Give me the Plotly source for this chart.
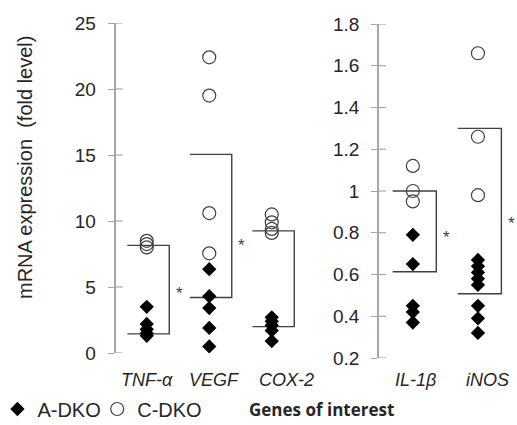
import plotly.graph_objects as go

W, H = 517, 425

# ---------------- data ----------------
LEFT_GENES = ["TNF-α", "VEGF", "COX-2"]
RIGHT_GENES = ["IL-1β", "iNOS"]

TNF_A = [3.5, 2.2, 1.8, 1.5, 1.3]
TNF_C = [8.5, 8.25, 8.0]
VEGF_A = [6.35, 4.3, 3.4, 1.9, 0.5]
VEGF_C = [22.4, 19.5, 10.6, 7.55]
COX2_A = [2.7, 2.4, 2.1, 1.7, 0.9]
COX2_C = [10.5, 9.9, 9.4, 9.1]
IL1B_A = [0.79, 0.65, 0.45, 0.42, 0.37]
IL1B_C = [1.12, 1.0, 0.95]
INOS_A = [0.67, 0.64, 0.61, 0.58, 0.55, 0.45, 0.39, 0.32]
INOS_C = [1.66, 1.26, 0.98]

# bracket levels (upper = C-DKO, lower = A-DKO)
LEFT_UPPER = [8.15, 15.05, 9.25]
LEFT_LOWER = [1.45, 4.2, 2.0]
RIGHT_UPPER = [1.0, 1.3]
RIGHT_LOWER = [0.613, 0.508]
# significance star heights
LEFT_STAR = [4.9, 8.5, 5.3]
RIGHT_STAR = [0.8, 0.87]

LEFT_TICKS = [0, 5, 10, 15, 20, 25]
RIGHT_TICKS = [0.2, 0.4, 0.6, 0.8, 1.0, 1.2, 1.4, 1.6, 1.8]

# ---------------- styling ----------------
FONT = "Liberation Sans, Arial, sans-serif"
TXT = "#262626"
AX = "#a6a6a6"
BR = "#404040"

LEFT_A = [TNF_A, VEGF_A, COX2_A]
LEFT_C = [TNF_C, VEGF_C, COX2_C]
RIGHT_A = [IL1B_A, INOS_A]
RIGHT_C = [IL1B_C, INOS_C]

XDOM1 = [115.5 / W, 303 / W]
XDOM2 = [379 / W, 511.8 / W]
YDOM1 = [(H - 353) / H, (H - 23) / H]
YDOM2 = [(H - 358) / H, (H - 24) / H]

BR_L = -0.31
BR_R = 0.36
STAR_DX = 0.52
LABEL_SHIFT_L = [0, 5, 15]
LABEL_SHIFT_R = [3, 10]

fig = go.Figure()


def add_panel(genes, A, C, upper, lower, xa, ya, first):
    for i in range(len(genes)):
        fig.add_trace(go.Scatter(
            x=[i + BR_L, i + BR_R, i + BR_R, i + BR_L],
            y=[upper[i], upper[i], lower[i], lower[i]],
            mode="lines", line=dict(color=BR, width=1.4),
            showlegend=False, hoverinfo="skip", xaxis=xa, yaxis=ya,
            cliponaxis=False))
    xs, ys = [], []
    for i, vals in enumerate(A):
        xs += [i] * len(vals)
        ys += vals
    fig.add_trace(go.Scatter(
        x=xs, y=ys, mode="markers", name="A-DKO", legendgroup="A",
        showlegend=first, legend="legend",
        marker=dict(symbol="diamond", size=11, color="black",
                    line=dict(width=0)),
        xaxis=xa, yaxis=ya))
    xs, ys = [], []
    for i, vals in enumerate(C):
        xs += [i] * len(vals)
        ys += vals
    fig.add_trace(go.Scatter(
        x=xs, y=ys, mode="markers", name="C-DKO", legendgroup="C",
        showlegend=first, legend="legend2",
        marker=dict(symbol="circle-open", size=13, color="#404040",
                    line=dict(width=1.2)),
        xaxis=xa, yaxis=ya))


add_panel(LEFT_GENES, LEFT_A, LEFT_C, LEFT_UPPER, LEFT_LOWER, "x", "y", True)
add_panel(RIGHT_GENES, RIGHT_A, RIGHT_C, RIGHT_UPPER, RIGHT_LOWER,
          "x2", "y2", False)

annotations = []
shapes = []


def panel_text(genes, stars, xref, yref, shifts):
    for i, g in enumerate(genes):
        annotations.append(dict(
            x=i, xref=xref, y=(H - 380) / H, yref="paper", text=g,
            showarrow=False, xanchor="center", yanchor="middle",
            xshift=shifts[i],
            font=dict(family=FONT, size=18, color=TXT, style="italic")))
        annotations.append(dict(
            x=i + STAR_DX, xref=xref, y=stars[i], yref=yref, text="*",
            showarrow=False, xanchor="center", yanchor="middle", yshift=-5,
            font=dict(family=FONT, size=17, color=BR)))


panel_text(LEFT_GENES, LEFT_STAR, "x", "y", LABEL_SHIFT_L)
panel_text(RIGHT_GENES, RIGHT_STAR, "x2", "y2", LABEL_SHIFT_R)

for v in LEFT_TICKS:
    shapes.append(dict(type="line", xref="paper", yref="y",
                       x0=XDOM1[0], x1=XDOM1[0] + 7 / W, y0=v, y1=v,
                       line=dict(color=AX, width=1.2)))
for v in RIGHT_TICKS:
    shapes.append(dict(type="line", xref="paper", yref="y2",
                       x0=XDOM2[0], x1=XDOM2[0] + 7 / W, y0=v, y1=v,
                       line=dict(color=AX, width=1.2)))

annotations.append(dict(
    x=25 / W, y=(H - 168) / H, xref="paper", yref="paper",
    text="mRNA expression  (fold level)", textangle=-90, showarrow=False,
    xanchor="center", yanchor="middle",
    font=dict(family=FONT, size=20, color=TXT)))
annotations.append(dict(
    x=321 / W, y=(H - 409) / H, xref="paper", yref="paper",
    text="<b>Genes of interest</b>", showarrow=False,
    xanchor="center", yanchor="middle",
    font=dict(family="Open Sans, sans-serif", size=17, color=TXT)))

xcommon = dict(showline=False, showgrid=False, zeroline=False,
               showticklabels=False, ticks="", fixedrange=True)
ycommon = dict(showline=True, linecolor=AX, linewidth=1.5, showgrid=False,
               zeroline=False, ticks="outside", ticklen=6, tickcolor=AX,
               tickwidth=1.2, ticklabelstandoff=8, automargin=False,
               tickfont=dict(family=FONT, size=19, color=TXT))

legend_common = dict(orientation="h", xanchor="left",
                     y=(H - 409) / H, yanchor="middle",
                     font=dict(family=FONT, size=20, color=TXT),
                     itemwidth=30, bgcolor="rgba(0,0,0,0)")

fig.update_layout(
    width=W, height=H,
    margin=dict(l=0, r=0, t=0, b=0, autoexpand=False),
    paper_bgcolor="white", plot_bgcolor="white",
    xaxis=dict(domain=XDOM1, range=[-0.5, 2.5], anchor="y", **xcommon),
    yaxis=dict(domain=YDOM1, range=[0, 25], tickvals=LEFT_TICKS,
               anchor="x", **ycommon),
    xaxis2=dict(domain=XDOM2, range=[-0.52, 1.52], anchor="y2", **xcommon),
    yaxis2=dict(domain=YDOM2, range=[0.2, 1.8], tickvals=RIGHT_TICKS,
                anchor="x2", **ycommon),
    showlegend=True,
    legend=dict(x=-0.005, **legend_common),
    legend2=dict(x=0.188, **legend_common),
    annotations=annotations,
    shapes=shapes,
)

fig.write_html("out.html",
               config={"displayModeBar": False},
               post_script="document.body.style.margin='0';"
                           "document.body.style.overflow='hidden';")
